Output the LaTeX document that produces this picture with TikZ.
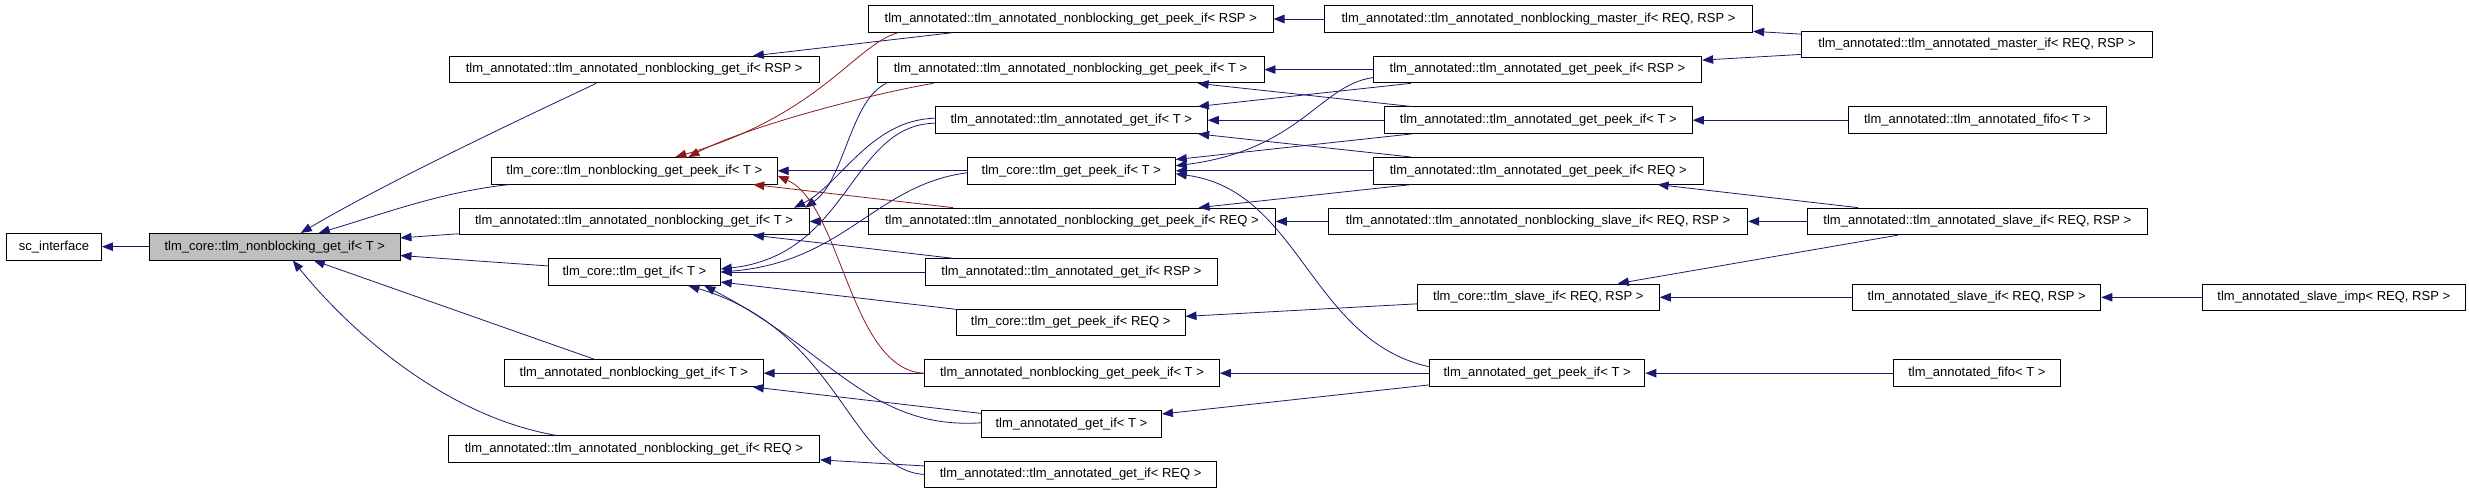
\documentclass[tikz,border=0pt]{standalone}
\usepackage{fontspec}
\setmainfont{Liberation Sans}
\usepackage{tikz}
\usetikzlibrary{arrows.meta}
\definecolor{edgeblue}{HTML}{191970}
\definecolor{edgered}{HTML}{8B1A1A}
\definecolor{boxgray}{HTML}{BFBFBF}
\begin{document}
\begin{tikzpicture}[x=1pt,y=-1pt,>={Triangle[length=11pt,width=8.5pt]},
  cls/.style={draw,line width=0.9pt,inner sep=0pt,minimum height=26.6pt,font=\fontsize{13pt}{15pt}\selectfont},
  pub/.style={->,draw=edgeblue,line width=0.8pt},
  prot/.style={->,draw=edgered,line width=0.8pt}]
\useasboundingbox (0,0) rectangle (2469,493);
\node (sci)        [cls,minimum width=95pt]    at (54,246.7)    {sc\_interface};
\node (nbget)      [cls,fill=boxgray,minimum width=250.4pt] at (274.8,246.7) {tlm\_core::tlm\_nonblocking\_get\_if< T >};
\node (anbgetrsp)  [cls,minimum width=369.7pt] at (634.2,69.6)  {tlm\_annotated::tlm\_annotated\_nonblocking\_get\_if< RSP >};
\node (nbpeek)     [cls,minimum width=285.6pt] at (634.4,170.8) {tlm\_core::tlm\_nonblocking\_get\_peek\_if< T >};
\node (anbgett)    [cls,minimum width=350.2pt] at (634.1,221.4) {tlm\_annotated::tlm\_annotated\_nonblocking\_get\_if< T >};
\node (gett)       [cls,minimum width=171.8pt] at (634.4,272)   {tlm\_core::tlm\_get\_if< T >};
\node (nbgetplain) [cls,minimum width=258.5pt] at (633.9,373.2) {tlm\_annotated\_nonblocking\_get\_if< T >};
\node (anbgetreq)  [cls,minimum width=371.3pt] at (633.9,449.1) {tlm\_annotated::tlm\_annotated\_nonblocking\_get\_if< REQ >};
\node (anbpeekrsp) [cls,minimum width=404.5pt] at (1070.8,19)   {tlm\_annotated::tlm\_annotated\_nonblocking\_get\_peek\_if< RSP >};
\node (anbpeekt)   [cls,minimum width=387pt]   at (1070.5,69.6) {tlm\_annotated::tlm\_annotated\_nonblocking\_get\_peek\_if< T >};
\node (agett)      [cls,minimum width=272pt]   at (1071.3,120.2) {tlm\_annotated::tlm\_annotated\_get\_if< T >};
\node (peekt)      [cls,minimum width=208pt]   at (1071.3,170.8) {tlm\_core::tlm\_get\_peek\_if< T >};
\node (anbpeekreq) [cls,minimum width=406.8pt] at (1071.9,221.4) {tlm\_annotated::tlm\_annotated\_nonblocking\_get\_peek\_if< REQ >};
\node (agetrsp)    [cls,minimum width=292pt]   at (1071.5,272)  {tlm\_annotated::tlm\_annotated\_get\_if< RSP >};
\node (peekreq)    [cls,minimum width=228.7pt] at (1070.7,322.6) {tlm\_core::tlm\_get\_peek\_if< REQ >};
\node (nbpeekplain) [cls,minimum width=295pt]  at (1072,373.2)  {tlm\_annotated\_nonblocking\_get\_peek\_if< T >};
\node (getplain)   [cls,minimum width=180.3pt] at (1071.4,423.8) {tlm\_annotated\_get\_if< T >};
\node (agetreq)    [cls,minimum width=292.2pt] at (1070.6,474.4) {tlm\_annotated::tlm\_annotated\_get\_if< REQ >};
\node (anbmaster)  [cls,minimum width=428.4pt] at (1538.5,19)   {tlm\_annotated::tlm\_annotated\_nonblocking\_master\_if< REQ, RSP >};
\node (apeekrsp)   [cls,minimum width=328.4pt] at (1537.5,69.6) {tlm\_annotated::tlm\_annotated\_get\_peek\_if< RSP >};
\node (apeekt)     [cls,minimum width=308pt]   at (1538.3,120.2) {tlm\_annotated::tlm\_annotated\_get\_peek\_if< T >};
\node (apeekreq)   [cls,minimum width=330pt]   at (1538.3,170.8) {tlm\_annotated::tlm\_annotated\_get\_peek\_if< REQ >};
\node (anbslave)   [cls,minimum width=419.4pt] at (1538,221.4)  {tlm\_annotated::tlm\_annotated\_nonblocking\_slave\_if< REQ, RSP >};
\node (slave)      [cls,minimum width=242pt]   at (1538.3,297.3) {tlm\_core::tlm\_slave\_if< REQ, RSP >};
\node (peekplain)  [cls,minimum width=215.6pt] at (1537.1,373.2) {tlm\_annotated\_get\_peek\_if< T >};
\node (amaster)    [cls,minimum width=351.5pt] at (1977,44.3)   {tlm\_annotated::tlm\_annotated\_master\_if< REQ, RSP >};
\node (afifo)      [cls,minimum width=257.5pt] at (1977.5,120.2) {tlm\_annotated::tlm\_annotated\_fifo< T >};
\node (aslave)     [cls,minimum width=340.1pt] at (1977.4,221.4) {tlm\_annotated::tlm\_annotated\_slave\_if< REQ, RSP >};
\node (slaveplain) [cls,minimum width=248.3pt] at (1976.7,297.3) {tlm\_annotated\_slave\_if< REQ, RSP >};
\node (fifoplain)  [cls,minimum width=166.4pt] at (1976.9,373.2) {tlm\_annotated\_fifo< T >};
\node (slaveimp)   [cls,minimum width=263.4pt] at (2333.8,297.3) {tlm\_annotated\_slave\_imp< REQ, RSP >};
\draw[pub] (nbget) -- (sci);
\draw[pub] ([xshift=-38pt]anbgetrsp.south) .. controls (540,110) and (390,180) .. ([xshift=26pt]nbget.north);
\draw[pub] ([xshift=-125pt]nbpeek.south) .. controls (440,192) and (380,215) .. ([xshift=44pt]nbget.north);
\draw[pub] (anbgett) -- (nbget);
\draw[pub] (gett) -- (nbget);
\draw[pub] (nbgetplain) -- (nbget);
\draw[pub] ([xshift=-78pt]anbgetreq.north) .. controls (440,415) and (345,325) .. ([xshift=18pt]nbget.south);
\draw[pub] (anbpeekrsp) -- (anbgetrsp);
\draw[prot] ([xshift=-173pt]anbpeekrsp.south) .. controls (855,45) and (820,115) .. ([xshift=41pt]nbpeek.north);
\draw[prot] ([xshift=-137pt]anbpeekt.south) .. controls (880,92) and (750,125) .. ([xshift=54pt]nbpeek.north);
\draw[pub] ([xshift=-184pt]anbpeekt.south) .. controls (850,100) and (845,180) .. ([xshift=171pt]anbgett.north);
\draw[pub] ([yshift=2pt]agett.west) .. controls (870,120) and (840,185) .. ([xshift=160pt]anbgett.north);
\draw[pub] ([yshift=-3pt]agett.west) .. controls (850,125) and (850,255) .. ([yshift=3pt]gett.east);
\draw[pub] (peekt) -- (nbpeek);
\draw[pub] ([yshift=-2pt]peekt.west) .. controls (875,185) and (845,262) .. (gett.east);
\draw[prot] (anbpeekreq) -- (nbpeek);
\draw[pub] (anbpeekreq) -- (anbgett);
\draw[pub] (agetrsp) -- (gett);
\draw[pub] (agetrsp) -- (anbgett);
\draw[pub] (peekreq) -- (gett);
\draw[pub] (nbpeekplain) -- (nbgetplain);
\draw[prot] (nbpeekplain.west) .. controls (850,370) and (842,205) .. ([yshift=-5pt]nbpeek.east);
\draw[pub] (getplain) -- (nbgetplain);
\draw[pub] ([yshift=1pt]getplain.west) .. controls (870,430) and (830,350) .. ([xshift=70pt]gett.south);
\draw[pub] (agetreq.west) .. controls (850,470) and (840,330) .. ([xshift=54pt]gett.south);
\draw[pub] (agetreq) -- (anbgetreq);
\draw[pub] (anbmaster) -- (anbpeekrsp);
\draw[pub] (apeekrsp) -- (anbpeekt);
\draw[pub] (apeekrsp) -- (agett);
\draw[pub] ([yshift=-8pt]apeekrsp.west) .. controls (1320,85) and (1300,150) .. ([yshift=5pt]peekt.east);
\draw[pub] (apeekt) -- (anbpeekt);
\draw[pub] (apeekt) -- (agett);
\draw[pub] (apeekt) -- (peekt);
\draw[pub] (apeekreq) -- (agett);
\draw[pub] (apeekreq) -- (peekt);
\draw[pub] (apeekreq) -- (anbpeekreq);
\draw[pub] (anbslave) -- (anbpeekreq);
\draw[pub] (slave) -- (peekreq);
\draw[pub] (peekplain) -- (nbpeekplain);
\draw[pub] (peekplain) -- (getplain);
\draw[pub] ([yshift=6.5pt]peekplain.west) .. controls (1310,340) and (1300,190) .. ([yshift=-3pt]peekt.east);
\draw[pub] (amaster) -- (anbmaster);
\draw[pub] (amaster) -- (apeekrsp);
\draw[pub] (afifo) -- (apeekt);
\draw[pub] (aslave) -- (apeekreq);
\draw[pub] (aslave) -- (anbslave);
\draw[pub] (aslave) -- (slave);
\draw[pub] (slaveplain) -- (slave);
\draw[pub] (fifoplain) -- (peekplain);
\draw[pub] (slaveimp) -- (slaveplain);
\end{tikzpicture}
\end{document}
